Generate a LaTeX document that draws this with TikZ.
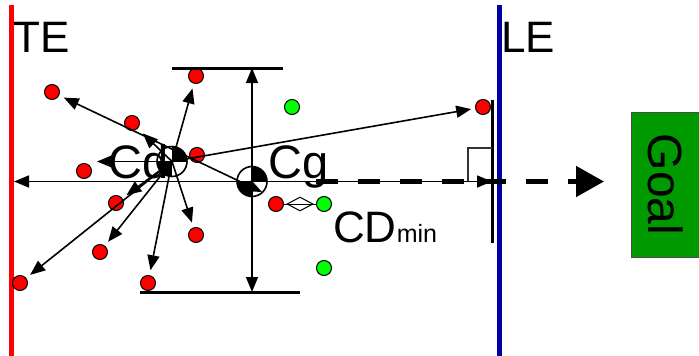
\documentclass[tikz,border=0pt]{standalone}
\usepackage{fontspec}
\setmainfont{Liberation Sans}
\usetikzlibrary{arrows.meta,shapes.geometric}
\definecolor{leblue}{RGB}{0,0,165}
\definecolor{goalgreen}{RGB}{0,153,0}
\newcommand{\balancemark}[1]{%
  \begin{scope}
    \clip (#1) circle (15pt);
    \fill (#1) rectangle ++(20,-20);
    \fill (#1) rectangle ++(-20,20);
  \end{scope}
  \draw[line width=1.6pt] (#1) circle (15pt);}
\begin{document}
\begin{tikzpicture}[x=1pt,y=-1pt,>={Triangle[length=15pt,width=12pt]},
  rdot/.style={circle,draw=black,line width=1pt,fill=red,inner sep=0pt,minimum size=15pt},
  gdot/.style={rdot,fill=green},
  lbl/.style={font=\fontsize{44}{48}\selectfont,inner sep=0pt,anchor=base west},
  biglbl/.style={lbl,font=\fontsize{47}{50}\selectfont},
  ray/.style={->,line width=1.6pt,shorten >=5pt}]
  \useasboundingbox (0,0) rectangle (699,356);
  \draw[red,line width=5pt] (11.5,5) -- (11.5,356);
  \draw[leblue,line width=5.5pt] (499.5,5) -- (499.5,356);
  \coordinate (te) at (11.5,5);
  \coordinate (fin) at (492,100);
  \coordinate (cd) at (172,161.5);
  \coordinate (cg) at (252,181.5);
  \coordinate (cgtip) at (262,192);
  \coordinate (hi) at (252,68);
  \coordinate (lo) at (252,292);
  \coordinate (aim) at (604,181.5);
  % sample points
  \node[rdot] (r1) at (52,92) {};
  \node[rdot] (r2) at (132,123) {};
  \node[rdot] (r3) at (196,76) {};
  \node[rdot] (r4) at (84,171) {};
  \node[rdot] (r5) at (116,203) {};
  \node[rdot] (r6) at (100,252) {};
  \node[rdot] (r7) at (20,283) {};
  \node[rdot] (r8) at (148,283) {};
  \node[rdot] (r9) at (196,235) {};
  \node[rdot] (r10) at (197,155) {};
  \node[rdot] (r11) at (276,204) {};
  \node[rdot] (r12) at (483,107) {};
  \node[gdot] (g1) at (292,107) {};
  \node[gdot] (g2) at (324,204) {};
  \node[gdot] (g3) at (324,268) {};
  % chord bars and span
  \draw[line width=3pt] (hi -| 172,0) -- (hi -| 283,0);
  \draw[line width=3pt] (lo -| 140,0) -- (lo -| 300,0);
  \draw[<->,line width=1.6pt] (hi) -- (lo);
  \draw[line width=3pt] (fin) -- (492,243);
  \draw[black!80,line width=1.5pt] (468,181.5) -- (468,148) -- (492,148);
  % rays from Cd
  \draw[ray] (cd) -- (cd -| r4.east);
  \draw[ray,shorten >=7pt] (cd) -- (r2);
  \draw[ray] (cd) -- (r3);
  \draw[ray] (cd) -- (r5);
  \draw[ray] (cd) -- (r6);
  \draw[ray] (cd) -- (r7);
  \draw[ray] (cd) -- (r8);
  \draw[ray] (cd) -- (r9);
  \draw[ray,shorten >=4pt] (cd) -- (r12);
  \draw[<->,line width=1.6pt,shorten <=5pt] (r1) -- (cgtip);
  \draw[->,line width=1.6pt,shorten >=2.5pt] (cg) -- (cg -| te);
  \draw[->,line width=1.6pt] (cg) -- (cg -| fin);
  \draw[line width=5pt,dash pattern=on 22pt off 20pt,-{Triangle[length=28pt,width=30pt]}]
    ([xshift=64pt]cg) -- (aim);
  % minimum distance
  \draw[line width=1pt] (r11) -- (g2);
  \node[diamond,draw,line width=1pt,minimum width=26pt,minimum height=14pt,inner sep=0pt] (cdmin) at (300,204) {};
  \balancemark{cd}
  \balancemark{cg}
  \node[lbl] (tetext) at (13,52) {TE};
  \node[lbl] (letext) at (501,52) {LE};
  \node[biglbl] (cdtext) at (108,178) {Cd};
  \node[biglbl] (cgtext) at (268,178) {Cg};
  \node[lbl] (cdmintext) at (333,242) {CD{\fontsize{25}{26}\selectfont min}};
  \node[draw=black!70,line width=1pt,fill=goalgreen,rotate=-90,minimum width=145pt,minimum height=70pt,
    font=\fontsize{48}{50}\selectfont] (goal) at (666,184.5) {Goal};
\end{tikzpicture}
\end{document}
